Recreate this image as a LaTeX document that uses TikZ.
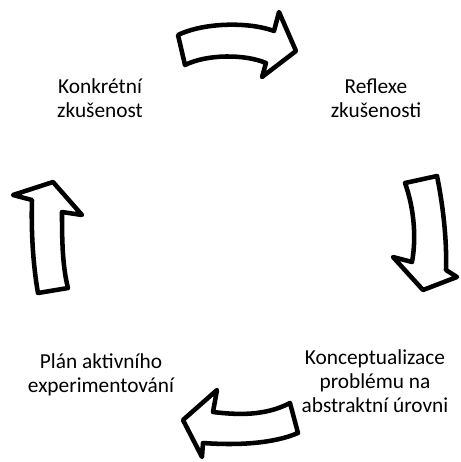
\documentclass[tikz,border=0pt]{standalone}
\usepackage{fontspec}
\setmainfont{Carlito}
\usetikzlibrary{shapes,arrows,arrows.meta}

\begin{document}
\begin{tikzpicture}[x=0.75pt,y=-0.75pt]
	\tikzstyle{every node}=[align=center,font=\fontsize{16}{18}\selectfont]
	\tikzstyle{cyclearrow}=[line width=3.4pt , fill= white , line join=round]

	%% picture frame
	\useasboundingbox (0,0) rectangle (461,462);

	%% arrows of the cycle
	\draw [cyclearrow]  (178,35) .. controls (205,22) and (250,22) .. (274,31) -- (279,12) -- (296,51) -- (262,77) -- (266,63) .. controls (245,54) and (207,54) .. (185,65) -- cycle;
	\draw [cyclearrow]  (405,183) -- (437,176) .. controls (443,205) and (447,240) .. (446,270) -- (457,277) -- (423,290) -- (393,257) -- (412,262) .. controls (417,235) and (413,205) .. (405,183) -- cycle;
	\draw [cyclearrow]  (290,403) .. controls (265,416) and (238,415) .. (213,412) -- (217,390) -- (183,420) -- (202,457) -- (203,443) .. controls (230,445) and (270,445) .. (298,433) -- cycle;
	\draw [cyclearrow]  (38,293) -- (68,288) .. controls (62,265) and (62,235) .. (62,212) -- (82,215) -- (53,182) -- (13,195) -- (32,200) .. controls (31,230) and (33,265) .. (38,293) -- cycle;

	%% stages
	\node (konkretni)  at (100,98)  {Konkrétní\\zkušenost};
	\node (reflexe)    at (376,98)  {Reflexe\\zkušenosti};
	\node (koncept)    at (375,381) {Konceptualizace\\problému na\\abstraktní úrovni};
	\node (plan)       at (101,375) {Plán aktivního\\experimentování};

\end{tikzpicture}
\end{document}
